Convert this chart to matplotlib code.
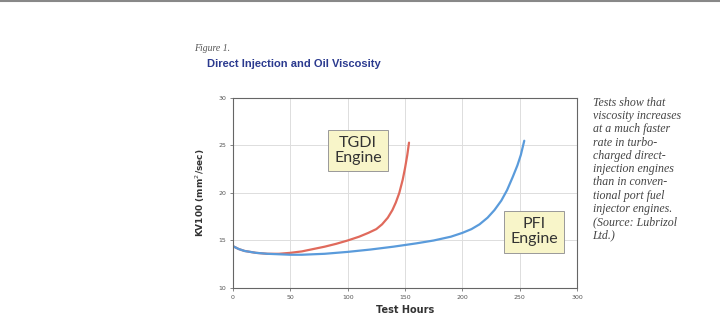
import matplotlib.pyplot as plt
from matplotlib.lines import Line2D

# data
tgdi_hours = [0, 5, 10, 20, 30, 40, 50, 60, 70, 80, 90, 100, 110, 118, 125, 130, 135, 139, 142, 145, 148, 150, 152, 153.5]
tgdi_kv = [14.4, 14.1, 13.9, 13.7, 13.6, 13.6, 13.7, 13.85, 14.1, 14.35, 14.65, 15.0, 15.4, 15.8, 16.2, 16.7, 17.4, 18.2, 19.0, 20.0, 21.4, 22.6, 24.0, 25.3]

pfi_hours = [0, 5, 10, 20, 30, 40, 50, 60, 80, 100, 120, 140, 160, 175, 190, 200, 208, 215, 222, 228, 234, 239, 244, 248, 251, 254]
pfi_kv = [14.4, 14.1, 13.9, 13.7, 13.6, 13.55, 13.5, 13.5, 13.6, 13.8, 14.05, 14.35, 14.7, 15.0, 15.4, 15.8, 16.2, 16.7, 17.4, 18.2, 19.2, 20.3, 21.7, 22.9, 24.0, 25.5]

x_ticks = [0, 50, 100, 150, 200, 250, 300]
y_ticks = [10, 15, 20, 25, 30]

caption = ("Tests show that\nviscosity increases\nat a much faster\nrate in turbo-\ncharged direct-\n"
           "injection engines\nthan in conven-\ntional port fuel\ninjector engines.\n(Source: Lubrizol\nLtd.)")

fig = plt.figure(figsize=(7.2, 3.26), dpi=100)
ax = fig.add_axes([0.3236, 0.1166, 0.4778, 0.5828])

ax.plot(tgdi_hours, tgdi_kv, color='#E06A5C', lw=1.6, solid_capstyle='round', solid_joinstyle='round')
ax.plot(pfi_hours, pfi_kv, color='#5A9BDB', lw=1.6, solid_capstyle='round', solid_joinstyle='round')

ax.set_xlim(0, 300)
ax.set_ylim(10, 30)
ax.set_xticks(x_ticks)
ax.set_yticks(y_ticks)
ax.tick_params(labelsize=4.5, colors='#555555', length=2, width=0.5, pad=3)
ax.grid(True, color='#DDDDDD', lw=0.7)
ax.set_axisbelow(True)
for s in ax.spines.values():
    s.set_color('#666666')
    s.set_linewidth(0.8)

ax.set_xlabel('Test Hours', fontsize=7, fontweight='bold', color='#333333', labelpad=4)
ax.set_ylabel('KV100 (mm$^2$/sec)', fontsize=6.5, fontweight='bold', color='#333333', labelpad=8)

box = dict(boxstyle='square,pad=0.38', fc='#F8F5C9', ec='#999999', lw=0.7)
ax.text(109, 24.5, 'TGDI\nEngine', ha='center', va='center', fontsize=11.5, color='#333333',
        family='Lato', linespacing=1.1, bbox=box)
ax.text(262.5, 15.9, 'PFI\nEngine', ha='center', va='center', fontsize=11.5, color='#333333',
        family='Lato', linespacing=1.1, bbox=box)

fig.text(0.27, 0.845, 'Figure 1.', fontsize=7, style='italic', family='Liberation Serif', color='#555555')
fig.text(0.287, 0.795, 'Direct Injection and Oil Viscosity', fontsize=8, fontweight='bold',
         family='Liberation Sans', color='#2B3A8F')

fig.text(0.823, 0.703, caption, fontsize=8.6, style='italic', family='Liberation Serif',
         color='#444444', va='top', linespacing=1.14)

fig.add_artist(Line2D([0, 1], [0.997, 0.997], transform=fig.transFigure, color='#888888', lw=1.5))

fig.savefig('out.png', dpi=100)
